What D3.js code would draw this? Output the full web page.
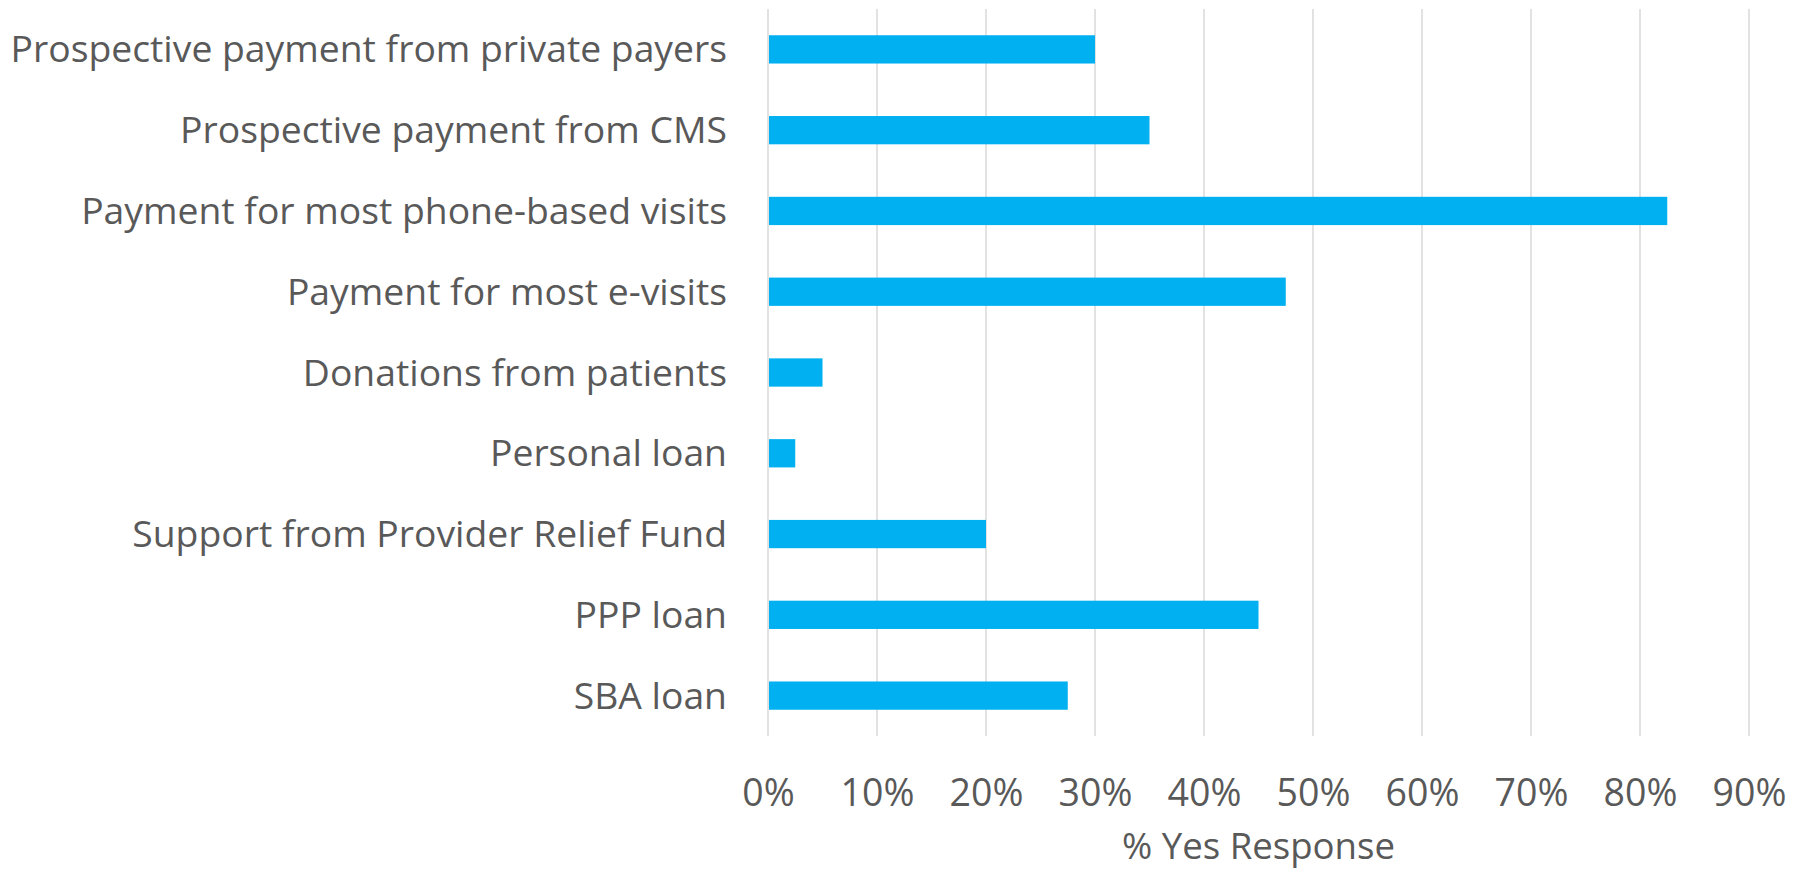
<!DOCTYPE html>
<html>
<head>
<meta charset="utf-8">
<script src="https://cdn.jsdelivr.net/npm/d3@7"></script>
<style>
  html, body { margin: 0; padding: 0; background: #fff; }
  svg { display: block; }
  text { font-family: "Open Sans", "Noto Sans", sans-serif; fill: #595959; }
</style>
</head>
<body>
<svg id="chart" width="1804" height="871"></svg>
<script>
const categories = [
  "Prospective payment from private payers",
  "Prospective payment from CMS",
  "Payment for most phone-based visits",
  "Payment for most e-visits",
  "Donations from patients",
  "Personal loan",
  "Support from Provider Relief Fund",
  "PPP loan",
  "SBA loan"
];
const values = [0.30, 0.35, 0.825, 0.475, 0.05, 0.025, 0.20, 0.45, 0.275];
const tickValues = [0, 0.1, 0.2, 0.3, 0.4, 0.5, 0.6, 0.7, 0.8, 0.9];
const axisTitle = "% Yes Response";

const W = 1804, H = 871;
const margin = { left: 768, right: 55, top: 9, bottom: 135 };
const innerW = W - margin.left - margin.right;
const innerH = H - margin.top - margin.bottom;

const svg = d3.select("#chart");
const g = svg.append("g").attr("transform", `translate(${margin.left},${margin.top})`);

const x = d3.scaleLinear().domain([0, 0.9]).range([0, innerW]);
const y = d3.scaleBand().domain(categories).range([0, innerH]).paddingInner(0.65).paddingOuter(0.325);

// gridlines
g.selectAll("line.grid").data(tickValues).join("line")
  .attr("class", "grid")
  .attr("x1", d => x(d)).attr("x2", d => x(d))
  .attr("y1", 0).attr("y2", innerH)
  .attr("stroke", "#d9d9d9").attr("stroke-width", 1.5);

// bars
g.selectAll("rect.bar").data(values).join("rect")
  .attr("class", "bar")
  .attr("x", x(0) + 1)
  .attr("y", (d, i) => y(categories[i]))
  .attr("width", d => x(d) - x(0) - 1)
  .attr("height", y.bandwidth())
  .attr("fill", "#00B0F0");

// x axis
const xAxis = d3.axisBottom(x).tickValues(tickValues).tickFormat(d3.format(".0%")).tickSize(0).tickPadding(0);
const xa = g.append("g").attr("transform", `translate(0,${innerH})`).call(xAxis);
xa.select(".domain").remove();
xa.selectAll("text")
  .attr("y", 70).attr("dy", null)
  .style("font-size", "37.5px")
  .style("font-family", '"Open Sans", sans-serif')
  .attr("fill", "#595959");

// y axis labels
const yAxis = d3.axisLeft(y).tickSize(0).tickPadding(41);
const ya = g.append("g").call(yAxis);
ya.select(".domain").remove();
ya.selectAll("text")
  .attr("dy", "0.35em")
  .style("font-size", "37.3px")
  .style("font-family", '"Open Sans", sans-serif')
  .attr("fill", "#595959");

// axis title
svg.append("text")
  .attr("x", margin.left + innerW / 2)
  .attr("y", 859)
  .attr("text-anchor", "middle")
  .style("font-size", "36.6px")
  .text(axisTitle);
</script>
</body>
</html>
